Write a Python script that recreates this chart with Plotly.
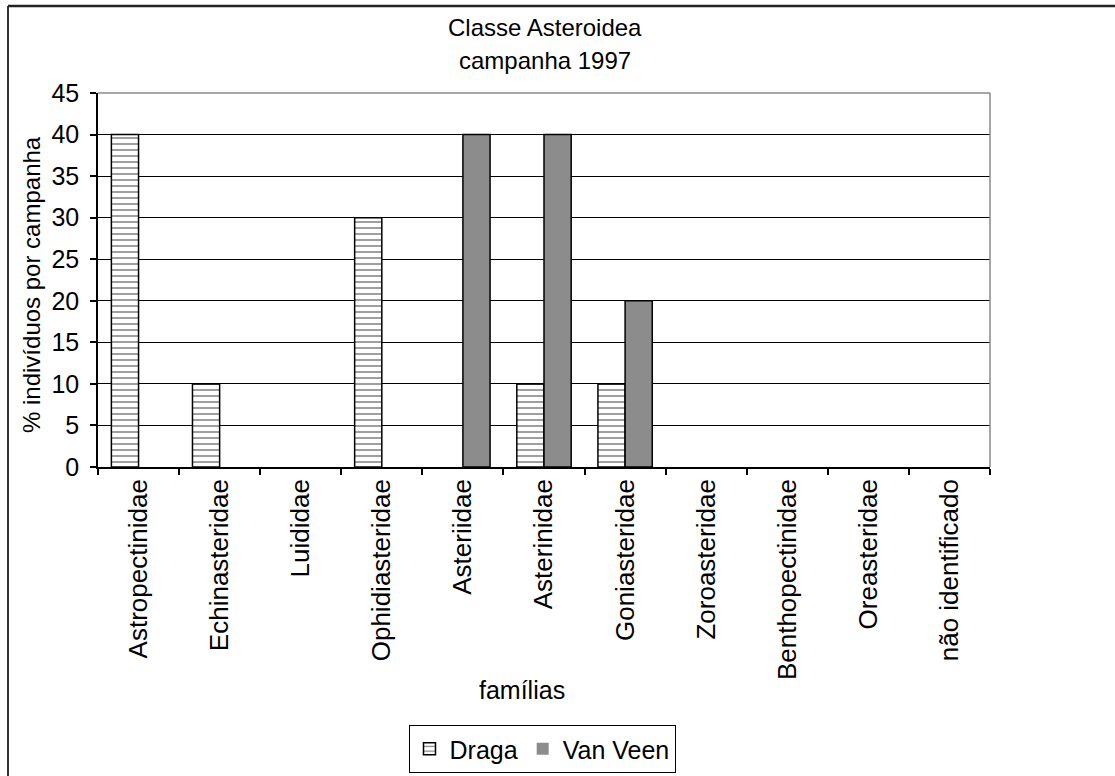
import plotly.graph_objects as go

# Families of Asteroidea sampled in the 1997 campaign
familias = [
    "Astropectinidae", "Echinasteridae", "Luididae", "Ophidiasteridae",
    "Asteriidae", "Asterinidae", "Goniasteridae", "Zoroasteridae",
    "Benthopectinidae", "Oreasteridae", "não identificado",
]
# % of individuals per campaign, by sampling gear
draga = [40, 10, 0, 30, 0, 10, 10, 0, 0, 0, 0]
van_veen = [0, 0, 0, 0, 40, 40, 20, 0, 0, 0, 0]
y_ticks = [0, 5, 10, 15, 20, 25, 30, 35, 40, 45]

W, H = 1115, 776
L, R, T, B = 98, 125, 93, 309
PW, PH = W - L - R, H - T - B
FONT = dict(family="Liberation Sans, Arial, sans-serif", size=24, color="black")


def px_x(px):
    return (px - L) / PW


def px_y(py):
    return (H - B - py) / PH


def outline_widths(values, w=1.5):
    # no outline on empty bars so nothing is drawn along the axis
    return [w if v else 0 for v in values]


def label(text, cx, cy, size=24, angle=0):
    fig.add_annotation(
        text=text, textangle=angle, x=px_x(cx), y=px_y(cy),
        xref="paper", yref="paper", xanchor="center", yanchor="middle",
        showarrow=False, font=dict(size=size),
    )


fig = go.Figure()
fig.add_trace(go.Bar(
    name="Draga", x=familias, y=draga,
    marker=dict(
        color="white",
        line=dict(color="black", width=outline_widths(draga)),
        pattern=dict(shape="-", fgcolor="black", bgcolor="white", size=6, solidity=0.25),
    ),
))
fig.add_trace(go.Bar(
    name="Van Veen", x=familias, y=van_veen,
    marker=dict(color="#8c8c8c", line=dict(color="black", width=outline_widths(van_veen))),
))

fig.update_layout(
    width=W, height=H,
    margin=dict(l=L, r=R, t=T, b=B, autoexpand=False),
    paper_bgcolor="white", plot_bgcolor="white",
    font=FONT,
    barmode="group", bargap=0.33, bargroupgap=0,
    showlegend=True,
    legend=dict(
        orientation="h", x=px_x(542), xanchor="center", y=px_y(725), yanchor="top",
        bordercolor="black", borderwidth=1, font=dict(size=25),
        itemwidth=30, tracegroupgap=0,
    ),
)

fig.update_xaxes(
    type="category", tickangle=-90, tickson="boundaries",
    ticks="outside", ticklen=6, tickcolor="black", tickwidth=1.5,
    showline=True, linecolor="black", linewidth=1.5,
    showgrid=False, automargin=False, tickfont=dict(size=26),
)
fig.update_yaxes(
    range=[0, 45], tickvals=y_ticks,
    ticks="outside", ticklen=6, tickcolor="black", tickwidth=1.5,
    showline=True, linecolor="black", linewidth=1.5,
    showgrid=True, gridcolor="black", gridwidth=1.2,
    zeroline=False, automargin=False, tickfont=dict(size=25),
    ticklabelstandoff=6,
)

# Chart title, two lines
label("Classe Asteroidea", 545, 28, 24)
label("campanha 1997", 545, 60, 24)

# Axis titles
label("% indivíduos por campanha", 31, 285, 24, -90)
label("famílias", 522, 690, 25)

# Grey frame on the top and right of the plot area
fig.add_shape(type="line", xref="paper", yref="paper", x0=0, x1=1, y0=1, y1=1,
              line=dict(color="#8a8a8a", width=1.5))
fig.add_shape(type="line", xref="paper", yref="paper", x0=1, x1=1, y0=0, y1=1,
              line=dict(color="#8a8a8a", width=1.5))

# Outer chart border (left and top edges)
fig.add_shape(type="line", xref="paper", yref="paper",
              x0=px_x(8), x1=px_x(8), y0=px_y(6), y1=px_y(H + 5),
              line=dict(color="#333333", width=2))
fig.add_shape(type="line", xref="paper", yref="paper",
              x0=px_x(8), x1=px_x(W + 5), y0=px_y(6), y1=px_y(6),
              line=dict(color="#222222", width=2.5))

fig.write_html("out.html")
